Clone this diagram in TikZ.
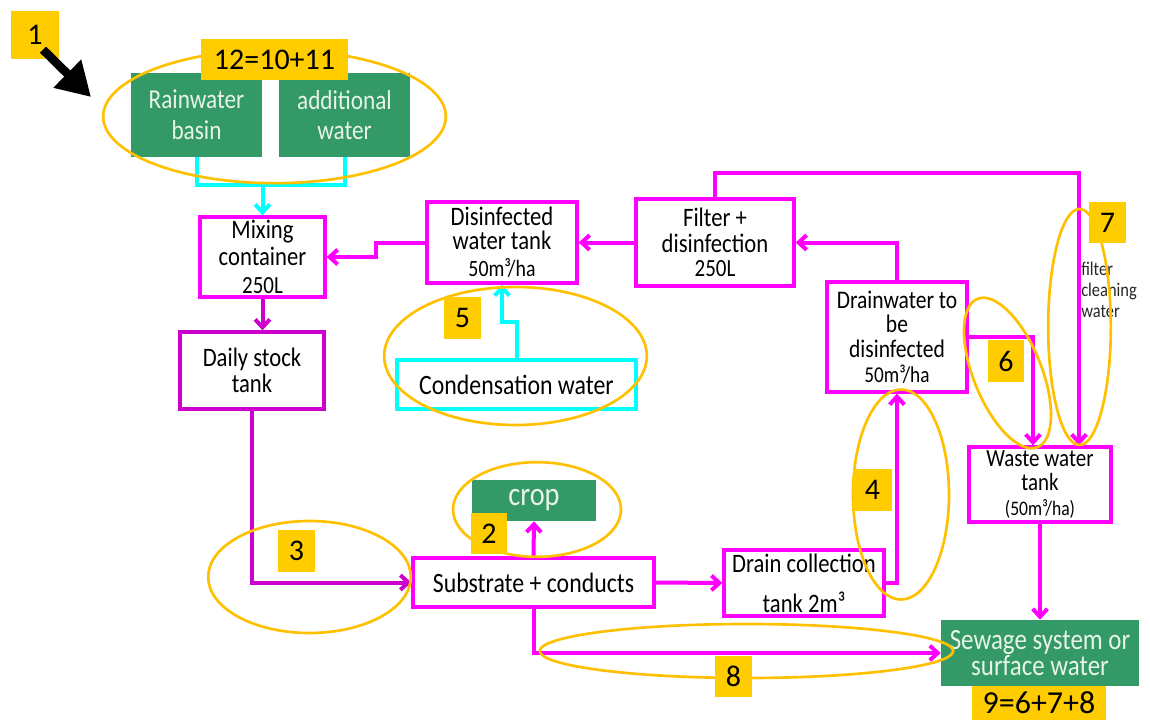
\documentclass[tikz,border=0pt]{standalone}
\usepackage{fontspec}
\setmainfont{Carlito}[FakeStretch=0.85]
\newfontfamily\tagfont{Carlito}
\usetikzlibrary{arrows.meta,calc,shapes.geometric}
\definecolor{pipe}{HTML}{FF00FF}
\definecolor{pipedark}{HTML}{CC00CC}
\definecolor{fresh}{HTML}{00FFFF}
\definecolor{leaf}{HTML}{339966}
\definecolor{leaftext}{HTML}{E8F4E8}
\definecolor{tagfill}{HTML}{FFCC00}
\definecolor{ringline}{HTML}{FFC000}

\begin{document}
\begin{tikzpicture}[x=0.75pt,y=-0.75pt,
  tank/.style={draw=pipe,line width=2.5pt,fill=white,inner sep=0pt,align=center,
    font=\fontsize{20}{18}\selectfont},
  darktank/.style={tank,draw=pipedark},
  freshtank/.style={tank,draw=fresh},
  green/.style={fill=leaf,inner sep=0pt,align=center,text=leaftext,
    font=\fontsize{20.5}{23}\selectfont},
  tag/.style={fill=tagfill,inner sep=0pt,font=\tagfont\fontsize{22.5}{22.5}\selectfont},
  ring/.style={ellipse,draw=ringline,line width=2pt,inner sep=0pt},
  tip/.style={-{Straight Barb[length=6pt,width=11pt]}},
  pipeline/.style={draw=pipe,line width=3pt,tip},
  darkline/.style={draw=pipedark,line width=3pt,tip},
  freshline/.style={draw=fresh,line width=3pt}]
\useasboundingbox (0,0) rectangle (1150,721);

% sources
\node[green, minimum width=98.25pt, minimum height=63pt] (rain) at (196.5,115) {Rainwater\\basin};
\node[green, minimum width=98.25pt, minimum height=63pt] (addw) at (344.5,115) {additional\\water};

% tanks
\node[tank, minimum width=93.75pt, minimum height=60pt] (mix) at (262.5,257)
  {Mixing\\[2pt]container\\[3.5pt]{\fontsize{18.5}{16}\selectfont 250L}};
\node[tank, minimum width=112.5pt, minimum height=60.75pt] (disinf) at (502,242.5)
  {Disinfected\\water tank\\[2.5pt]{\fontsize{17.5}{16}\selectfont 50m³/ha}};
\node[tank, minimum width=118.5pt, minimum height=65.25pt] (filter) at (715,242.5)
  {Filter +\\[1.5pt]disinfection\\{\fontsize{18.5}{16}\selectfont 250L}};
\node[darktank, minimum width=108pt, minimum height=57.75pt] (daily) at (252,370.5) {Daily stock\\[2pt]tank};
\node[freshtank, minimum width=179.25pt, minimum height=36.75pt, font=\fontsize{21}{18}\selectfont] (cond) at (516.5,384.5) {Condensation water};
\node[tank, minimum width=105pt, minimum height=82.5pt, font=\fontsize{19}{18.5}\selectfont] (drain) at (897,337)
  {Drainwater to\\be\\disinfected\\{\fontsize{17}{16}\selectfont 50m³/ha}};
\node[tank, minimum width=106.5pt, minimum height=56.25pt, font=\fontsize{18.5}{18.5}\selectfont] (waste) at (1040,484.5)
  {Waste water\\tank\\{\fontsize{15.5}{15}\selectfont (50m³/ha)}};
\node[tank, minimum width=120pt, minimum height=49.5pt] (collect) at (804,583)
  {Drain collection\\[12pt]tank 2m³};
\node[tank, minimum width=180.75pt, minimum height=36.75pt, font=\fontsize{21}{18}\selectfont] (sub) at (533.5,582.5) {Substrate + conducts};
\node[green, minimum width=93pt, minimum height=30.75pt, font=\fontsize{25}{25}\selectfont] (crop) at (534,500.5) {crop};
\node[green, minimum width=148.5pt, minimum height=49.5pt, font=\fontsize{22}{18}\selectfont] (sewage) at (1040,653)
  {Sewage system or\\surface water};
\node[anchor=north west, inner sep=0pt, align=left, text=black!85,
  font=\fontsize{14.5}{15.5}\selectfont] (cleannote) at (1081,262) {filter\\cleaning\\water};

% connectors
\coordinate (join) at (262.5,185);
\draw[freshline] (rain.south) |- (join) -| (addw.south);
\draw[freshline,tip] (join) -- (mix.north);
\draw[freshline,tip] (cond.north) |- ($(cond.north)!.5!(disinf.south)$) -| (disinf.south);
\draw[pipeline] (disinf.west) -| ($(disinf.west)!.5!(mix.east)$) |- (mix.east);
\draw[pipeline] (filter.west) -- (disinf.east);
\draw[pipeline] (drain.north) |- (filter.east);
\coordinate (cleantop) at (1079,173);
\draw[pipeline] (filter.north) |- (cleantop) -- (cleantop |- waste.north);
\draw[pipeline] (drain.east) -| ($(waste.north)+(-7,0)$);
\draw[pipeline] (collect.east) -| (drain.south);
\draw[pipeline] (sub.east) -- (collect.west);
\draw[pipeline] (sub.north) -- (crop.south);
\draw[pipeline] (sub.south) |- (sewage.west);
\draw[pipeline] (waste.south) -- (sewage.north);
\draw[darkline] (mix.south) -- (mix.south |- daily.north);
\draw[darkline] (daily.south) |- (sub.west);

% rings
\node[ring, minimum width=257pt, minimum height=100pt] (ringtop) at (274.5,116.5) {};
\node[ring, minimum width=197pt, minimum height=103.5pt] (ring5) at (515.5,356) {};
\node[ring, minimum width=126pt, minimum height=71pt] (ring2) at (537,509.5) {};
\node[ring, minimum width=152pt, minimum height=84pt] (ring3) at (309.5,577) {};
\node[ring, minimum width=72pt, minimum height=157.5pt] (ring4) at (901,494.5) {};
\node[ring, minimum width=51pt, minimum height=120pt, rotate=22] (ring6) at (1007.5,373) {};
\node[ring, minimum width=47pt, minimum height=177pt] (ring7) at (1079.5,327) {};
\node[ring, minimum width=310pt, minimum height=40.5pt] (ring8) at (746.5,651) {};

% tags
\node[tag, minimum width=36pt, minimum height=36pt] (tag1) at (35,35) {1};
\node[tag, minimum width=110.25pt, minimum height=30.75pt] (tagtop) at (274.5,59.5) {12=10+11};
\node[tag, minimum width=27pt, minimum height=30.75pt] (tag2) at (489,533.5) {2};
\node[tag, minimum width=27.75pt, minimum height=31.5pt] (tag3) at (296.5,551) {3};
\node[tag, minimum width=29.25pt, minimum height=31.5pt] (tag4) at (872.5,490) {4};
\node[tag, minimum width=27.75pt, minimum height=31.5pt] (tag5) at (462.5,318) {5};
\node[tag, minimum width=27pt, minimum height=31.5pt] (tag6) at (1006,361) {6};
\node[tag, minimum width=27.75pt, minimum height=30.75pt] (tag7) at (1107.5,222.5) {7};
\node[tag, minimum width=27.75pt, minimum height=30.75pt] (tag8) at (733.5,676.5) {8};
\node[tag, minimum width=100.5pt, minimum height=25.5pt, font=\tagfont\fontsize{24}{24}\selectfont] (tag9) at (1039,703) {9=6+7+8};

% pointer
\coordinate (pointtip) at (91,97);
\draw[line width=6.5pt, -{Triangle[length=25pt,width=28pt]}] ([xshift=6pt,yshift=-11pt]tag1.center) -- (pointtip);
\end{tikzpicture}
\end{document}
